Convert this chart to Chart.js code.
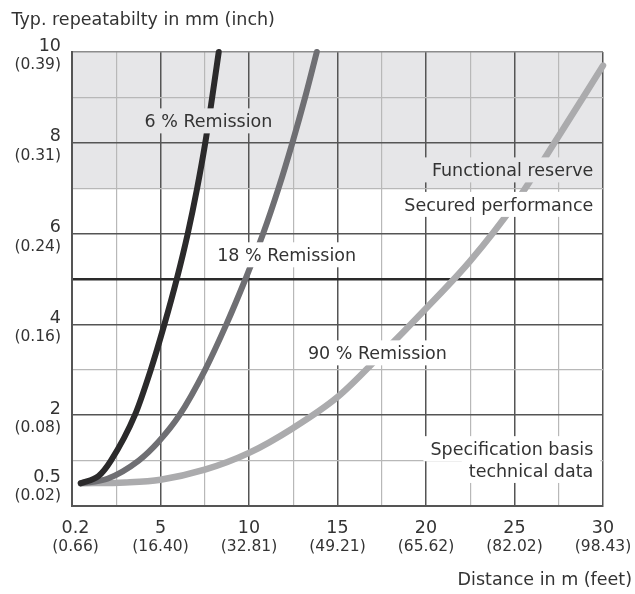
<!DOCTYPE html>
<html lang="en">
  <head>
    <meta charset="UTF-8" />
    <title>Typ. repeatability</title>
    <style>
      body {
        margin: 0;
        background: #fff;
      }
      canvas {
        display: block;
      }
    </style>
    <script src="https://cdn.jsdelivr.net/npm/chart.js"></script>
  </head>
  <body>
    <canvas id="repChart" width="635" height="594"></canvas>
    <script>
      // distance in m / repeatability in mm
      const dist6 = [0.5, 1.5, 2.2, 3.55, 4.45, 5.22, 5.92, 6.54, 7.07, 7.53, 7.92, 8.29];
      const rep6 = [0.5, 0.66, 1.0, 2.0, 3.0, 4.0, 5.0, 6.0, 7.0, 8.0, 9.0, 10.0];

      const dist18 = [0.5, 2.0, 3.77, 4.9, 6.07, 7.52, 8.72, 9.8, 10.8, 11.67, 12.45, 13.17, 13.83];
      const rep18 = [0.5, 0.6, 1.0, 1.42, 2.0, 3.0, 4.0, 5.0, 6.0, 7.0, 8.0, 9.0, 10.0];

      const dist90 = [0.5, 3, 5, 7.5, 10, 12.5, 15, 17.5, 20, 22.5, 25, 27.5, 30];
      const rep90 = [0.5, 0.52, 0.58, 0.8, 1.17, 1.72, 2.4, 3.35, 4.35, 5.4, 6.65, 8.15, 9.7];

      const xTickVals = [0.2, 5, 10, 15, 20, 25, 30];
      const xTickFeet = ["(0.66)", "(16.40)", "(32.81)", "(49.21)", "(65.62)", "(82.02)", "(98.43)"];
      const yTickVals = [0.5, 2, 4, 6, 8, 10];
      const yTickInch = ["(0.02)", "(0.08)", "(0.16)", "(0.24)", "(0.31)", "(0.39)"];

      const reserveFrom = 7;
      const reserveTo = 10;

      // notes: [text, x, y (baseline), align, box background]
      const notes = [
        ["6 % Remission", 4.1, 8.34, "left", "#e6e6e8"],
        ["Functional reserve", 29.45, 7.26, "right", "#e6e6e8"],
        ["Secured performance", 29.45, 6.5, "right", "#fff"],
        ["18 % Remission", 8.2, 5.39, "left", "#fff"],
        ["90 % Remission", 13.33, 3.23, "left", "#fff"],
        ["Specification basis", 29.45, 1.12, "right", "#fff"],
        ["technical data", 29.45, 0.64, "right", "#fff"],
      ];

      const FONT = "'DejaVu Sans', sans-serif";
      const TEXT = "#333";
      const bandColor = "#e6e6e8";

      const toPts = (xs, ys) => xs.map((x, i) => ({ x: x, y: ys[i] }));

      const bandPlugin = {
        id: "band",
        beforeDraw(chart) {
          const { ctx, chartArea, scales } = chart;
          const top = scales.y.getPixelForValue(reserveTo);
          const bot = scales.y.getPixelForValue(reserveFrom);
          ctx.save();
          ctx.fillStyle = bandColor;
          ctx.fillRect(chartArea.left, top, chartArea.right - chartArea.left, bot - top);
          ctx.restore();
        },
      };

      const notesPlugin = {
        id: "notes",
        afterDatasetsDraw(chart) {
          const { ctx, scales } = chart;
          ctx.save();
          ctx.font = "17.5px " + FONT;
          ctx.textBaseline = "alphabetic";
          notes.forEach(([text, xv, yv, align, bg]) => {
            const px = scales.x.getPixelForValue(xv);
            const py = scales.y.getPixelForValue(yv);
            const w = ctx.measureText(text).width;
            const left = align === "right" ? px - w : px;
            ctx.fillStyle = bg;
            ctx.fillRect(left - 7, py - 19, w + 14, 25);
            ctx.fillStyle = TEXT;
            ctx.textAlign = align;
            ctx.fillText(text, px, py);
          });
          ctx.restore();
        },
        afterDraw(chart) {
          const { ctx, scales, chartArea } = chart;
          ctx.save();
          ctx.fillStyle = TEXT;
          // x tick labels
          ctx.textAlign = "center";
          xTickVals.forEach((v, i) => {
            const px = scales.x.getPixelForValue(v);
            ctx.font = "17.5px " + FONT;
            ctx.fillText(String(v), px, chartArea.bottom + 26.5);
            ctx.font = "15.5px " + FONT;
            ctx.fillText(xTickFeet[i], px, chartArea.bottom + 44.5);
          });
          // y tick labels
          ctx.textAlign = "right";
          yTickVals.forEach((v, i) => {
            const py = scales.y.getPixelForValue(v);
            ctx.font = "17.5px " + FONT;
            ctx.fillText(String(v), 61, py - 1.5);
            ctx.font = "15.5px " + FONT;
            ctx.fillText(yTickInch[i], 61, py + 17);
          });
          // axis titles
          ctx.font = "17.5px " + FONT;
          ctx.textAlign = "left";
          ctx.fillText("Typ. repeatabilty in mm (inch)", 11.5, 25);
          ctx.textAlign = "right";
          ctx.fillText("Distance in m (feet)", 632, 585);
          ctx.restore();
        },
      };

      const lineStyle = {
        showLine: true,
        pointRadius: 0,
        borderWidth: 6,
        borderCapStyle: "round",
        borderJoinStyle: "round",
        cubicInterpolationMode: "monotone",
        clip: false,
      };

      const config = {
        type: "scatter",
        data: {
          datasets: [
            Object.assign({ label: "6 % Remission", data: toPts(dist6, rep6), borderColor: "#2b2a2b" }, lineStyle),
            Object.assign({ label: "18 % Remission", data: toPts(dist18, rep18), borderColor: "#6f6f73" }, lineStyle),
            Object.assign({ label: "90 % Remission", data: toPts(dist90, rep90), borderColor: "#ababad" }, lineStyle, { borderWidth: 6.5 }),
          ],
        },
        options: {
          responsive: false,
          animation: false,
          devicePixelRatio: 1,
          layout: { padding: { top: 52, right: 32, left: 0, bottom: 0 } },
          plugins: {
            legend: { display: false },
            tooltip: { enabled: false },
          },
          scales: {
            x: {
              type: "linear",
              min: 0,
              max: 30,
              ticks: { display: false, stepSize: 2.5 },
              afterFit(scale) {
                scale.height = 88;
              },
              border: { color: "#555", width: 2 },
              grid: {
                drawTicks: false,
                color: (c) => (c.tick.value % 5 === 0 ? "#555" : "#b8b8b8"),
                lineWidth: (c) => (c.tick.value % 5 === 0 ? 1.5 : 1.2),
              },
            },
            y: {
              type: "linear",
              min: 0,
              max: 10,
              ticks: { display: false, stepSize: 1 },
              afterFit(scale) {
                scale.width = 72;
              },
              border: { color: "#555", width: 2 },
              grid: {
                drawTicks: false,
                color: (c) => {
                  const v = c.tick.value;
                  if (v === 10) return "#8c8c8c";
                  if (v === 5) return "#2a2a2a";
                  return v % 2 === 0 ? "#555" : "#b8b8b8";
                },
                lineWidth: (c) => {
                  const v = c.tick.value;
                  if (v === 5) return 2.5;
                  return v % 2 === 0 ? 1.5 : 1.2;
                },
              },
            },
          },
        },
        plugins: [bandPlugin, notesPlugin],
      };

      const repChart = new Chart(document.getElementById("repChart"), config);
    </script>
  </body>
</html>
